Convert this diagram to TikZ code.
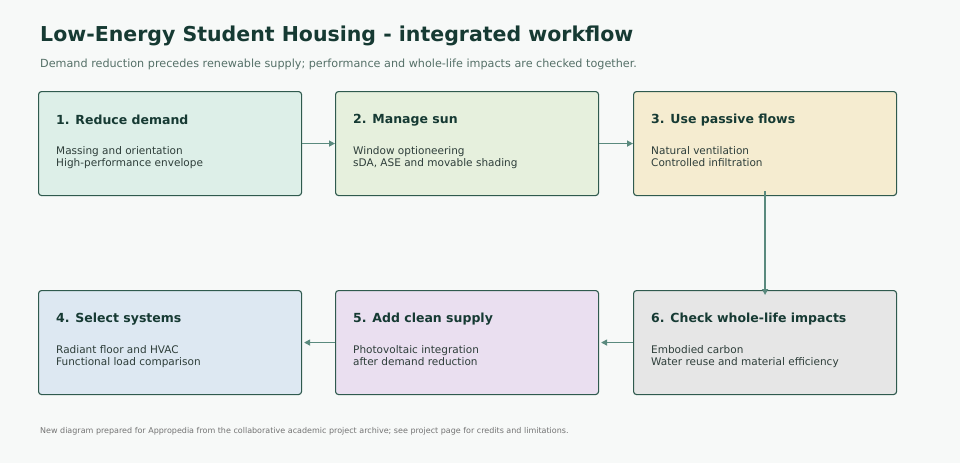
\documentclass[tikz,border=0pt]{standalone}
\usepackage{fontspec}
\setmainfont{DejaVu Sans}
\usetikzlibrary{arrows.meta}
\definecolor{bg}{HTML}{F7F9F8}
\definecolor{bd}{HTML}{2F5A4E}
\definecolor{ar}{HTML}{5A8A7E}
\definecolor{tt}{HTML}{163A33}
\definecolor{tx}{HTML}{2E3E3A}
\definecolor{sub}{HTML}{557068}
\definecolor{ca}{HTML}{DDEFE8}
\definecolor{cb}{HTML}{E6F0DD}
\definecolor{cc}{HTML}{F5ECD0}
\definecolor{cd}{HTML}{DDE8F2}
\definecolor{ce}{HTML}{EADFF0}
\definecolor{cf}{HTML}{E6E6E6}
\begin{document}
\begin{tikzpicture}[x=1pt,y=-1pt,
box/.style={draw=bd,line width=1.1pt,rounded corners=3pt,minimum width=263pt,minimum height=104pt,anchor=north west,inner sep=0pt},
hd/.style={anchor=west,font=\fontsize{12.5}{14}\selectfont\bfseries,text=tt,inner sep=0pt},
bt/.style={anchor=north west,font=\fontsize{10.5}{12}\selectfont,text=tx,align=left,inner sep=0pt},
arr/.style={draw=ar,line width=1.4pt,-{Triangle[length=6pt,width=6pt]}}]
\fill[bg] (0,0) rectangle (960,463);
\node[anchor=west,inner sep=0pt,font=\fontsize{20.5}{24}\selectfont\bfseries,text=tt] (title) at (40,36) {Low-Energy Student Housing - integrated workflow};
\node[anchor=west,inner sep=0pt,font=\fontsize{11.2}{13}\selectfont,text=sub] (subt) at (40,64) {Demand reduction precedes renewable supply; performance and whole-life impacts are checked together.};
\node[box,fill=ca] (b1) at (38,91) {};
\node[box,fill=cb] (b2) at (335,91) {};
\node[box,fill=cc] (b3) at (633,91) {};
\node[box,fill=cd] (b4) at (38,290) {};
\node[box,fill=ce] (b5) at (335,290) {};
\node[box,fill=cf] (b6) at (633,290) {};
\node[hd] (h1) at (56,120) {1. Reduce demand};
\node[bt] (t1) at (56,146) {Massing and orientation\\High-performance envelope};
\node[hd] (h2) at (353,120) {2. Manage sun};
\node[bt] (t2) at (353,146) {Window optioneering\\sDA, ASE and movable shading};
\node[hd] (h3) at (651,120) {3. Use passive flows};
\node[bt] (t3) at (651,146) {Natural ventilation\\Controlled infiltration};
\node[hd] (h4) at (56,319) {4. Select systems};
\node[bt] (t4) at (56,345) {Radiant floor and HVAC\\Functional load comparison};
\node[hd] (h5) at (353,319) {5. Add clean supply};
\node[bt] (t5) at (353,345) {Photovoltaic integration\\after demand reduction};
\node[hd] (h6) at (651,319) {6. Check whole-life impacts};
\node[bt] (t6) at (651,345) {Embodied carbon\\Water reuse and material efficiency};
\draw[arr] (b1.east) -- (b2.west);
\draw[arr] (b2.east) -- (b3.west);
\draw[arr] ([yshift=5pt]b3.south) -- ([yshift=-5pt]b6.north);
\draw[arr] (b6.west) -- ([xshift=2pt]b5.east);
\draw[arr] (b5.west) -- ([xshift=2pt]b4.east);
\node[anchor=west,inner sep=0pt,font=\fontsize{8}{10}\selectfont,text=gray!90!black] (foot) at (40,431) {New diagram prepared for Appropedia from the collaborative academic project archive; see project page for credits and limitations.};
\end{tikzpicture}
\end{document}
